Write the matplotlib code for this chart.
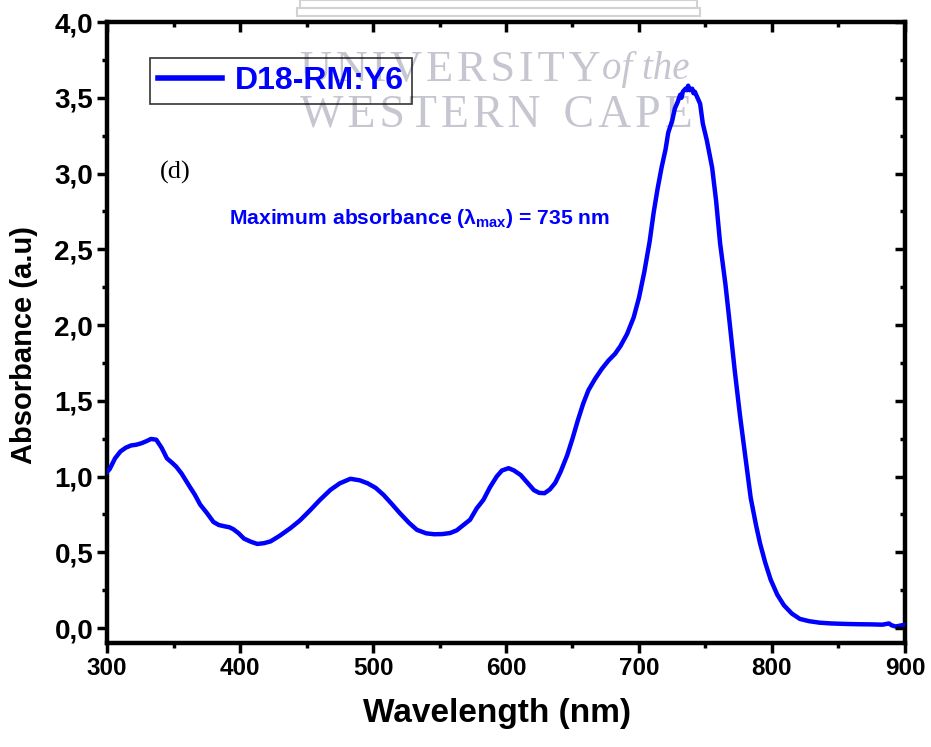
import numpy as np
import matplotlib.pyplot as plt
from matplotlib.ticker import MultipleLocator, FuncFormatter
from matplotlib.patches import Rectangle

# absorbance spectrum of the D18-RM:Y6 blend film
wavelength = [300, 302, 306, 310, 314, 318, 322, 326, 330, 333, 337, 341, 345, 349,
              352, 356, 362, 366, 370, 375, 380, 384, 388, 392, 395, 399, 403, 408,
              413, 418, 423, 430, 438, 445, 453, 460, 468, 475, 483, 490, 496, 502,
              508, 514, 520, 527, 533, 540, 546, 552, 558, 563, 568, 573, 578, 583,
              588, 593, 597, 602, 606, 611, 616, 621, 625, 629, 633, 637, 641, 646,
              650, 654, 658, 662, 667, 672, 677, 682, 686, 691, 696, 700, 704, 708,
              711, 714, 717, 720, 722, 725, 727, 729, 731, 732, 733, 735, 736, 737,
              738, 740, 741, 742, 744, 746, 748, 751, 755, 758, 761, 765, 768, 772,
              776, 780, 784, 788, 791, 795, 799, 804, 809, 815, 821, 828, 836, 845,
              855, 865, 875, 883, 888, 890, 893, 896, 900]
absorbance = [1.03, 1.05, 1.12, 1.165, 1.19, 1.205, 1.21, 1.22, 1.235, 1.248, 1.243, 1.19,
              1.12, 1.09, 1.065, 1.02, 0.935, 0.88, 0.815, 0.76, 0.70, 0.68, 0.672, 0.665,
              0.652, 0.625, 0.59, 0.57, 0.555, 0.56, 0.572, 0.61, 0.66, 0.71, 0.78, 0.845,
              0.912, 0.955, 0.985, 0.975, 0.955, 0.925, 0.878, 0.82, 0.76, 0.695, 0.648,
              0.625, 0.619, 0.62, 0.627, 0.645, 0.68, 0.715, 0.79, 0.846, 0.93, 1.0, 1.04,
              1.055, 1.04, 1.01, 0.96, 0.91, 0.892, 0.89, 0.915, 0.958, 1.03, 1.14, 1.25,
              1.37, 1.48, 1.57, 1.645, 1.71, 1.765, 1.81, 1.86, 1.94, 2.05, 2.18, 2.35,
              2.55, 2.74, 2.9, 3.04, 3.16, 3.27, 3.35, 3.43, 3.47, 3.52, 3.5, 3.54, 3.56,
              3.55, 3.58, 3.55, 3.56, 3.53, 3.54, 3.50, 3.46, 3.33, 3.22, 3.04, 2.82,
              2.54, 2.27, 2.03, 1.70, 1.40, 1.13, 0.86, 0.68, 0.56, 0.43, 0.32, 0.22,
              0.15, 0.095, 0.06, 0.045, 0.035, 0.03, 0.027, 0.025, 0.024, 0.022, 0.03,
              0.018, 0.01, 0.015, 0.022]
series_name = 'D18-RM:Y6'
lambda_max = 735

plt.rcParams['font.family'] = ['Liberation Sans', 'DejaVu Sans']
plt.rcParams['mathtext.fontset'] = 'custom'
plt.rcParams['mathtext.rm'] = 'Liberation Sans:bold'
plt.rcParams['mathtext.it'] = 'Liberation Sans:bold'
plt.rcParams['mathtext.bf'] = 'Liberation Sans:bold'

fig = plt.figure(figsize=(9.31, 7.47), dpi=100)
ax = fig.add_axes([0.115, 0.139, 0.857, 0.8315])

ax.plot(wavelength, absorbance, color='#0000ff', lw=3.2, label=series_name, zorder=3)

ax.set_xlim(300, 900)
ax.set_ylim(-0.1, 4.0)
ax.xaxis.set_major_locator(MultipleLocator(100))
ax.xaxis.set_minor_locator(MultipleLocator(50))
ax.yaxis.set_major_locator(MultipleLocator(0.5))
ax.yaxis.set_minor_locator(MultipleLocator(0.25))
ax.yaxis.set_major_formatter(FuncFormatter(lambda v, p: f'{v:.1f}'.replace('.', ',')))

for s in ax.spines.values():
    s.set_linewidth(3.2)
ax.tick_params(which='major', length=7, width=2.5, pad=3)
ax.tick_params(which='minor', length=3.5, width=2.5)
ax.tick_params(which='both', direction='out', top=False, right=False)
ax.tick_params(axis='x', labelsize=17.5)
ax.tick_params(axis='y', labelsize=20)
for lab in ax.get_xticklabels() + ax.get_yticklabels():
    lab.set_fontweight('bold')

# inward ticks on the top and right edges
ax2 = ax.twinx()
ax2.set_ylim(ax.get_ylim())
ax2.yaxis.set_major_locator(MultipleLocator(0.5))
ax2.yaxis.set_minor_locator(MultipleLocator(0.25))
ax2.tick_params(which='major', direction='in', length=7, width=2.5, labelright=False)
ax2.tick_params(which='minor', direction='in', length=3.5, width=2.5)
ax3 = ax.twiny()
ax3.set_xlim(ax.get_xlim())
ax3.xaxis.set_major_locator(MultipleLocator(100))
ax3.xaxis.set_minor_locator(MultipleLocator(50))
ax3.tick_params(which='major', direction='in', length=7, width=2.5, labeltop=False)
ax3.tick_params(which='minor', direction='in', length=3.5, width=2.5)
for a in (ax2, ax3):
    for s in a.spines.values():
        s.set_visible(False)

ax.set_xlabel('Wavelength (nm)', fontsize=24, fontweight='bold')
ax.set_ylabel('Absorbance (a.u)', fontsize=21, fontweight='bold')
ax.xaxis.set_label_coords(0.489, -0.088)
ax.yaxis.set_label_coords(-0.087, 0.48)

leg = ax.legend(loc='upper left', bbox_to_anchor=(0.054, 0.942), borderaxespad=0,
                fontsize=23, handlelength=2.0, handletextpad=0.4, borderpad=0.25,
                fancybox=False, edgecolor='black')
leg.get_frame().set_linewidth(1.2)
leg.get_frame().set_facecolor('none')
for t in leg.get_texts():
    t.set_color('#0000ff')
    t.set_fontweight('bold')
leg.get_lines()[0].set_linewidth(4)

ax.text(340, 3.01, '(d)', fontsize=19, family=['Liberation Serif'], va='center')
ax.text(392, 2.70, r'Maximum absorbance ($\lambda_{max}$) = %d nm' % lambda_max,
        fontsize=15.2, fontweight='bold', color='#0000ff', va='center')

# faint university watermark, under the curve and the legend text
wm = '#c6c6d0'
hs = '\u200a'
ax.text(0.242, 0.923, hs.join('UNIVERSITY'), transform=ax.transAxes, fontsize=32,
        family=['Liberation Serif', 'DejaVu Serif'], color=wm, va='center', zorder=2)
ax.text(0.62, 0.923, 'of the', transform=ax.transAxes, fontsize=28, style='italic',
        family=['Liberation Serif'], color=wm, va='center', zorder=2)
ax.text(0.242, 0.85, hs.join('WESTERN') + '  ' + hs.join('CAPE'), transform=ax.transAxes,
        fontsize=33, family=['Liberation Serif', 'DejaVu Serif'], color=wm, va='center',
        zorder=2)
fig.patches.append(Rectangle((300 / 931, 1 - 8 / 747), 397 / 931, 8 / 747,
                             transform=fig.transFigure, fill=False, ec='#d2d2d2', lw=1.5))
fig.patches.append(Rectangle((297 / 931, 1 - 16 / 747), 403 / 931, 8 / 747,
                             transform=fig.transFigure, fill=False, ec='#d2d2d2', lw=1.5))

fig.savefig('out.png', dpi=100)
